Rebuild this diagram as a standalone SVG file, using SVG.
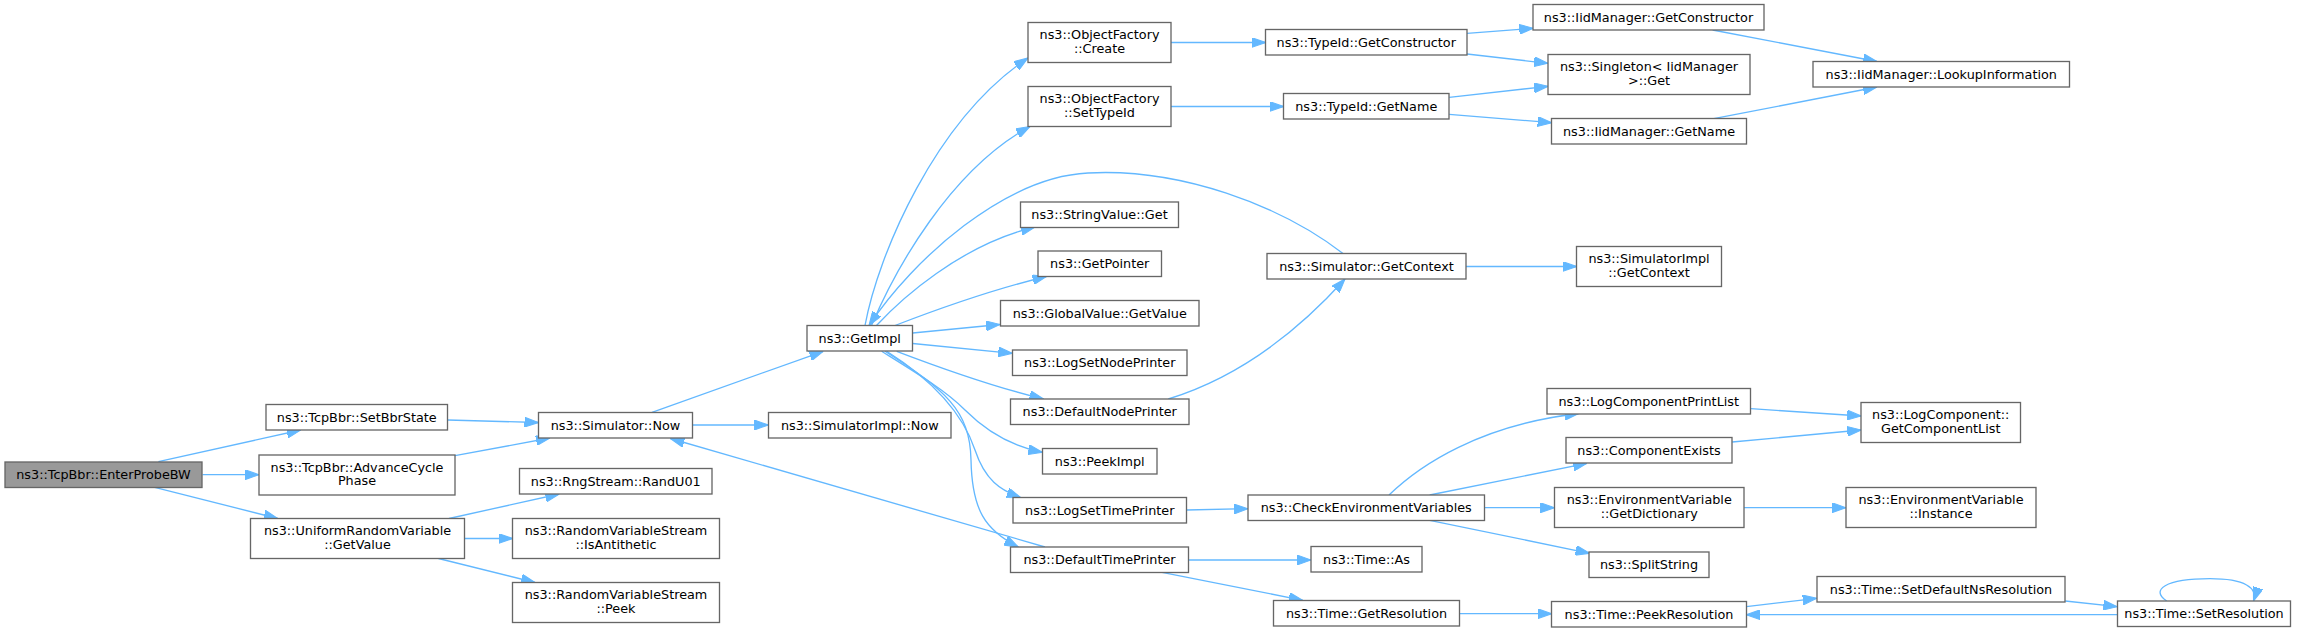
<svg xmlns="http://www.w3.org/2000/svg" width="2307" height="632" viewBox="0 0 2307 632">
<style>
.node rect{fill:#ffffff;stroke:#666666;stroke-width:1.33}
.node.root rect{fill:#999999}
.node text{font-family:"DejaVu Sans","Liberation Sans",sans-serif;font-size:12.8px;fill:#000000;text-anchor:middle}
.edges path{fill:none;stroke:#63b8ff;stroke-width:1.33;marker-end:url(#ah)}
</style>
<defs>
<marker id="ah" markerUnits="userSpaceOnUse" markerWidth="14" markerHeight="10" viewBox="0 0 13.3 9.4" refX="13.3" refY="4.7" orient="auto">
<path d="M0,0 L13.3,4.7 L0,9.4 Z" fill="#63b8ff" stroke="#63b8ff" stroke-width="1"/>
</marker>
</defs>
<rect width="2307" height="632" fill="#ffffff"/>
<g class="edges" id="edges">
<path d="M158.4,461.7 L300.8,430"/>
<path d="M202.5,474.7 L259,474.7"/>
<path d="M154.7,487.3 L277.8,518.5"/>
<path d="M447.7,420 L538.5,422.5"/>
<path d="M455,455.7 L550,438"/>
<path d="M449,518.5 L559.3,494"/>
<path d="M464.5,538.5 L512.5,538.5"/>
<path d="M438.5,558.5 L535,582.5"/>
<path d="M652,412.3 L823.3,351.3"/>
<path d="M692.4,425 L768.4,425"/>
<path d="M1045,547 L670.4,438.5"/>
<path d="M865,325.5 C878,255 935,120 1028,58"/>
<path d="M871.5,325.5 C895,270 950,170 1030,126.5"/>
<path d="M1343,253.5 C1280,205 1180,168 1088,173 C1005,177 913,259 869,325.5"/>
<path d="M876.5,325.5 C900,300 960,245 1035,227"/>
<path d="M895,325.5 C930,312 990,290 1046.5,276.5"/>
<path d="M912.7,333 L1000,324.5"/>
<path d="M912.7,343.5 L1012.3,353.3"/>
<path d="M896.7,351.3 C930,364 990,386 1043.5,399"/>
<path d="M881.7,351.3 C915,372 945,390 965,410 C985,430 1010,446 1042.3,452.3"/>
<path d="M886.7,351.3 C940,385 965,420 975,450 C985,480 1000,490 1020.7,497.7"/>
<path d="M885,351.3 C945,390 970,410 971,460 C972,510 985,530 1018.3,547"/>
<path d="M1168.3,399 C1230,380 1290,340 1345,279"/>
<path d="M1171,42.5 L1265.5,42.5"/>
<path d="M1171,106.5 L1283.5,106.5"/>
<path d="M1467,33.3 L1533.3,28.3"/>
<path d="M1467,54 L1548,63.3"/>
<path d="M1449.2,97.3 L1548,86.3"/>
<path d="M1449.2,114.3 L1551.7,122.7"/>
<path d="M1712.6,30 L1877,61.5"/>
<path d="M1713.7,118.7 L1877,87"/>
<path d="M1466,266.5 L1576.6,266.5"/>
<path d="M1186.7,510 L1248,508.7"/>
<path d="M1188.7,560 L1311,560"/>
<path d="M1162,572.3 L1302.8,600.3"/>
<path d="M1389,495 C1420,465 1480,425 1578.8,413.5"/>
<path d="M1429.7,495 L1587,463.3"/>
<path d="M1484.5,507.7 L1554.4,507.7"/>
<path d="M1429.7,520.3 L1589.6,553.3"/>
<path d="M1750.7,408.7 L1861.2,416"/>
<path d="M1732.2,442 L1861.2,430"/>
<path d="M1744.1,507.7 L1846,507.7"/>
<path d="M1459.5,613.7 L1551.7,613.7"/>
<path d="M1746.3,606.7 L1816.8,598.3"/>
<path d="M2065.3,601 L2117.3,606.7"/>
<path d="M2117.3,614.7 L1746.3,614.7"/>
<path d="M2166.7,601 C2150,590 2165,578.7 2210,578.7 C2245,578.7 2258,588 2253.5,601"/>
</g>
<g id="n1" class="node root"><rect x="5" y="462" width="197" height="25.5"/><text x="103.5" y="479">ns3::TcpBbr::EnterProbeBW</text></g>
<g id="n2" class="node"><rect x="266" y="404.5" width="181.5" height="25.5"/><text x="356.75" y="421.5">ns3::TcpBbr::SetBbrState</text></g>
<g id="n3" class="node"><rect x="259" y="455" width="196" height="40"/><text x="357" y="471.8">ns3::TcpBbr::AdvanceCycle</text><text x="357" y="485.1">Phase</text></g>
<g id="n4" class="node"><rect x="250.5" y="518.5" width="214" height="40"/><text x="357.5" y="535.3">ns3::UniformRandomVariable</text><text x="357.5" y="548.6">::GetValue</text></g>
<g id="n5" class="node"><rect x="538.5" y="412.5" width="154" height="25.5"/><text x="615.5" y="429.5">ns3::Simulator::Now</text></g>
<g id="n6" class="node"><rect x="519.5" y="468.5" width="192.5" height="25.5"/><text x="615.75" y="485.5">ns3::RngStream::RandU01</text></g>
<g id="n7" class="node"><rect x="512.5" y="518.5" width="207" height="40"/><text x="616" y="535.3">ns3::RandomVariableStream</text><text x="616" y="548.6">::IsAntithetic</text></g>
<g id="n8" class="node"><rect x="512.5" y="582.5" width="207" height="40"/><text x="616" y="599.3">ns3::RandomVariableStream</text><text x="616" y="612.6">::Peek</text></g>
<g id="n9" class="node"><rect x="807" y="325.5" width="105.5" height="25.5"/><text x="859.75" y="342.5">ns3::GetImpl</text></g>
<g id="n10" class="node"><rect x="768.5" y="412.5" width="182.5" height="25.5"/><text x="859.75" y="429.5">ns3::SimulatorImpl::Now</text></g>
<g id="n11" class="node"><rect x="1028" y="22.5" width="143" height="40"/><text x="1099.5" y="39.3">ns3::ObjectFactory</text><text x="1099.5" y="52.6">::Create</text></g>
<g id="n12" class="node"><rect x="1028" y="86.5" width="143" height="40"/><text x="1099.5" y="103.3">ns3::ObjectFactory</text><text x="1099.5" y="116.6">::SetTypeId</text></g>
<g id="n13" class="node"><rect x="1020.5" y="202" width="158" height="25.5"/><text x="1099.5" y="219">ns3::StringValue::Get</text></g>
<g id="n14" class="node"><rect x="1038" y="251" width="123.5" height="25.5"/><text x="1099.75" y="268">ns3::GetPointer</text></g>
<g id="n15" class="node"><rect x="1000.5" y="300.5" width="198.5" height="25.5"/><text x="1099.75" y="317.5">ns3::GlobalValue::GetValue</text></g>
<g id="n16" class="node"><rect x="1012.5" y="350" width="174.5" height="25.5"/><text x="1099.75" y="367">ns3::LogSetNodePrinter</text></g>
<g id="n17" class="node"><rect x="1010.5" y="399" width="178.5" height="25.5"/><text x="1099.75" y="416">ns3::DefaultNodePrinter</text></g>
<g id="n18" class="node"><rect x="1042.5" y="448.5" width="114.5" height="25.5"/><text x="1099.75" y="465.5">ns3::PeekImpl</text></g>
<g id="n19" class="node"><rect x="1013" y="497.5" width="173.5" height="25.5"/><text x="1099.75" y="514.5">ns3::LogSetTimePrinter</text></g>
<g id="n20" class="node"><rect x="1010.5" y="547" width="178" height="25.5"/><text x="1099.5" y="564">ns3::DefaultTimePrinter</text></g>
<g id="n21" class="node"><rect x="1265.5" y="29.5" width="201.5" height="25.5"/><text x="1366.25" y="46.5">ns3::TypeId::GetConstructor</text></g>
<g id="n22" class="node"><rect x="1283.5" y="93.5" width="165.5" height="25.5"/><text x="1366.25" y="110.5">ns3::TypeId::GetName</text></g>
<g id="n23" class="node"><rect x="1267" y="253.5" width="199" height="25.5"/><text x="1366.5" y="270.5">ns3::Simulator::GetContext</text></g>
<g id="n24" class="node"><rect x="1248" y="495" width="236.5" height="25.5"/><text x="1366.25" y="512">ns3::CheckEnvironmentVariables</text></g>
<g id="n25" class="node"><rect x="1311" y="546.5" width="111" height="25.5"/><text x="1366.5" y="563.5">ns3::Time::As</text></g>
<g id="n26" class="node"><rect x="1273.5" y="600.5" width="186" height="25.5"/><text x="1366.5" y="617.5">ns3::Time::GetResolution</text></g>
<g id="n27" class="node"><rect x="1533" y="4.5" width="231" height="25.5"/><text x="1648.5" y="21.5">ns3::IidManager::GetConstructor</text></g>
<g id="n28" class="node"><rect x="1548" y="54.5" width="202" height="40"/><text x="1649" y="71.3">ns3::Singleton&lt; IidManager</text><text x="1649" y="84.6">&gt;::Get</text></g>
<g id="n29" class="node"><rect x="1551.5" y="118.5" width="195" height="25.5"/><text x="1649" y="135.5">ns3::IidManager::GetName</text></g>
<g id="n30" class="node"><rect x="1576.5" y="246.5" width="145" height="40"/><text x="1649" y="263.3">ns3::SimulatorImpl</text><text x="1649" y="276.6">::GetContext</text></g>
<g id="n31" class="node"><rect x="1547" y="388.5" width="203.5" height="25.5"/><text x="1648.75" y="405.5">ns3::LogComponentPrintList</text></g>
<g id="n32" class="node"><rect x="1566" y="437.5" width="166" height="25.5"/><text x="1649" y="454.5">ns3::ComponentExists</text></g>
<g id="n33" class="node"><rect x="1554.5" y="487.5" width="189.5" height="40"/><text x="1649.25" y="504.3">ns3::EnvironmentVariable</text><text x="1649.25" y="517.6">::GetDictionary</text></g>
<g id="n34" class="node"><rect x="1589" y="552" width="120" height="25.5"/><text x="1649" y="569">ns3::SplitString</text></g>
<g id="n35" class="node"><rect x="1551.5" y="601.5" width="195" height="25.5"/><text x="1649" y="618.5">ns3::Time::PeekResolution</text></g>
<g id="n36" class="node"><rect x="1813" y="61.5" width="256.5" height="25.5"/><text x="1941.25" y="78.5">ns3::IidManager::LookupInformation</text></g>
<g id="n37" class="node"><rect x="1861" y="402.5" width="159.5" height="40"/><text x="1940.75" y="419.3">ns3::LogComponent::</text><text x="1940.75" y="432.6">GetComponentList</text></g>
<g id="n38" class="node"><rect x="1846" y="487.5" width="190" height="40"/><text x="1941" y="504.3">ns3::EnvironmentVariable</text><text x="1941" y="517.6">::Instance</text></g>
<g id="n39" class="node"><rect x="1817" y="576.5" width="248" height="25.5"/><text x="1941" y="593.5">ns3::Time::SetDefaultNsResolution</text></g>
<g id="n40" class="node"><rect x="2117.5" y="601" width="173" height="25.5"/><text x="2204" y="618">ns3::Time::SetResolution</text></g>
</svg>
